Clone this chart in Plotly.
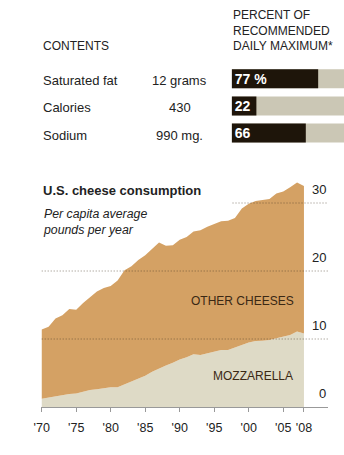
import plotly.graph_objects as go

# ---- data ----
years = list(range(1970, 2009))
total = [11.4, 11.8, 13.0, 13.5, 14.4, 14.3, 15.3, 16.2, 17.0, 17.5,
         17.8, 18.6, 20.1, 20.7, 21.6, 22.3, 23.3, 24.2, 23.7, 23.8,
         24.6, 25.0, 25.8, 26.0, 26.5, 26.9, 27.3, 27.4, 27.8, 29.2,
         29.9, 30.3, 30.5, 30.6, 31.4, 31.7, 32.3, 33.0, 32.5]
mozzarella = [1.2, 1.4, 1.6, 1.7, 1.9, 2.0, 2.3, 2.5, 2.6, 2.75,
              2.9, 2.9, 3.3, 3.7, 4.1, 4.6, 5.2, 5.7, 6.1, 6.5,
              7.0, 7.3, 7.75, 7.65, 7.9, 8.1, 8.4, 8.4, 8.7, 9.1,
              9.5, 9.7, 9.75, 9.85, 10.1, 10.3, 10.6, 11.1, 10.8]
other = [t - m for t, m in zip(total, mozzarella)]

xtick_vals = [1970, 1975, 1980, 1985, 1990, 1995, 2000, 2005, 2008]
xtick_text = ["'70", "'75", "'80", "'85", "'90", "'95", "'00", "'05", "'08"]
ytick_vals = [0, 10, 20, 30]

nutrients = ["Saturated fat", "Calories", "Sodium"]
amounts = ["12 grams", "430", "990 mg."]
percents = [77, 22, 66]
percent_labels = ["77 %", "22", "66"]

# ---- styling ----
W, H = 344, 455
ORANGE = "#D4A164"
BEIGE = "#DEDAC6"
DARK = "#1E150A"
GRAYBAR = "#CBC7B5"
TXT = "#222222"
FONT = "Arial, Liberation Sans, sans-serif"


def px(xp):
    return xp / W


def py(yp):
    return (H - yp) / H


per_year = (303 - 34.5) / 38
x_lo = 1970 - 0.5 / per_year
x_hi = 2008 + 25 / per_year

fig = go.Figure()

fig.add_trace(go.Scatter(
    x=years, y=mozzarella, mode="lines", line=dict(width=0),
    fill="tozeroy", fillcolor=BEIGE, stackgroup="a", hoverinfo="skip",
    xaxis="x", yaxis="y", name="Mozzarella"))
fig.add_trace(go.Scatter(
    x=years, y=other, mode="lines", line=dict(width=0),
    fill="tonexty", fillcolor=ORANGE, stackgroup="a", hoverinfo="skip",
    xaxis="x", yaxis="y", name="Other cheeses"))

# bars (background + value)
fig.add_trace(go.Bar(
    x=[100] * len(nutrients), y=nutrients, orientation="h",
    marker=dict(color=GRAYBAR, line=dict(width=0)), width=0.7,
    xaxis="x2", yaxis="y2", hoverinfo="skip"))
fig.add_trace(go.Bar(
    x=percents, y=nutrients, orientation="h",
    marker=dict(color=DARK, line=dict(width=0)), width=0.7,
    text=percent_labels, textposition="inside", insidetextanchor="start",
    textangle=0, constraintext="none", cliponaxis=False,
    textfont=dict(family=FONT, size=14, color="white", weight="bold"),
    xaxis="x2", yaxis="y2", hoverinfo="skip"))

y_top_val = (407 - 160) / 6.8

fig.update_layout(
    width=W, height=H, margin=dict(l=0, r=0, t=0, b=0),
    paper_bgcolor="white", plot_bgcolor="rgba(0,0,0,0)",
    showlegend=False, barmode="overlay",
    font=dict(family=FONT, color=TXT),
    xaxis=dict(domain=[px(34), px(328)], range=[x_lo, x_hi],
               tickvals=xtick_vals, ticktext=xtick_text,
               ticks="outside", ticklen=4, tickcolor="#999999",
               ticklabelstandoff=5,
               showline=True, linecolor="#999999", linewidth=1,
               showgrid=False, zeroline=False,
               tickfont=dict(size=12.5, color=TXT), anchor="y"),
    yaxis=dict(domain=[py(407), py(160)], range=[0, y_top_val],
               visible=False, anchor="x"),
    xaxis2=dict(domain=[px(229), 1], range=[0, 100], visible=False,
                anchor="y2"),
    yaxis2=dict(domain=[py(146.55), py(65.25)], range=[2.5, -0.5],
                visible=False, anchor="x2"),
)

# gridlines (dotted, drawn above the areas)
grid_starts = {10: 1970, 20: 1970, 30: 1997.65}
for v in [10, 20, 30]:
    fig.add_shape(type="line", xref="x", yref="y",
                  x0=grid_starts[v], x1=x_hi, y0=v, y1=v, layer="above",
                  line=dict(color="rgba(70,55,35,0.6)", width=1, dash="1px,2px"))

# y tick labels (above gridlines, right aligned)
for v in ytick_vals:
    fig.add_annotation(x=1, xref="x domain", y=v, yref="y", text=str(v),
                       xanchor="right", yanchor="bottom", yshift=4,
                       showarrow=False, font=dict(size=13, color=TXT))

# chart title and subtitle
fig.add_annotation(x=px(34), y=py(191), xref="paper", yref="paper",
                   text="<b>U.S. cheese consumption</b>", xanchor="left",
                   yanchor="middle", showarrow=False,
                   font=dict(size=13, color=TXT))
fig.add_annotation(x=px(34), y=py(222), xref="paper", yref="paper",
                   text="<i>Per capita average<br>pounds per year</i>",
                   xanchor="left", yanchor="middle", showarrow=False,
                   align="left", font=dict(size=12.3, color=TXT))

# series labels
fig.add_annotation(x=px(295), y=py(301), xref="paper", yref="paper",
                   text="OTHER CHEESES", xanchor="right", yanchor="middle",
                   showarrow=False, font=dict(size=12, color="#3A2814"))
fig.add_annotation(x=px(294), y=py(376), xref="paper", yref="paper",
                   text="MOZZARELLA", xanchor="right", yanchor="middle",
                   showarrow=False, font=dict(size=12, color="#3A2814"))

# table header
fig.add_annotation(x=px(34), y=py(46.5), xref="paper", yref="paper",
                   text="CONTENTS", xanchor="left", yanchor="middle",
                   showarrow=False, font=dict(size=12, color=TXT))
fig.add_annotation(x=px(228), y=py(31), xref="paper", yref="paper",
                   text="PERCENT OF<br>RECOMMENDED<br>DAILY MAXIMUM*",
                   xanchor="left", yanchor="middle", align="left",
                   showarrow=False, font=dict(size=12, color=TXT))

# table rows
for i, (n, a) in enumerate(zip(nutrients, amounts)):
    fig.add_annotation(x=px(34), y=i, xref="paper", yref="y2", text=n,
                       xanchor="left", yanchor="middle", yshift=-2,
                       showarrow=False, font=dict(size=13, color=TXT))
    fig.add_annotation(x=px(176), y=i, xref="paper", yref="y2", text=a,
                       xanchor="center", yanchor="middle", yshift=-2,
                       showarrow=False, font=dict(size=13, color=TXT))

fig.write_html("out.html")
